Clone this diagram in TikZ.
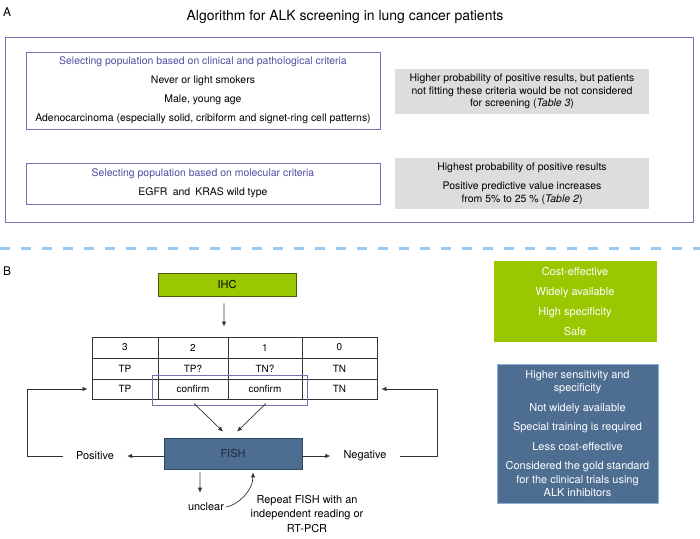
\documentclass[tikz,border=0pt]{standalone}
\usepackage{fontspec}
\setmainfont{TeX Gyre Heros}
\usetikzlibrary{arrows.meta}
\definecolor{frameblue}{HTML}{7272B2}
\definecolor{hdrblue}{HTML}{4E4E9E}
\definecolor{greyfill}{HTML}{DDDDDD}
\definecolor{dividerblue}{HTML}{9DC9F0}
\definecolor{ihcgreen}{HTML}{99C800}
\definecolor{ihcedge}{HTML}{4A5E10}
\definecolor{fishblue}{HTML}{4D6D91}
\definecolor{fishedge}{HTML}{2E4866}
\definecolor{fishtext}{HTML}{1C2B40}
\definecolor{consedge}{HTML}{8DB2D8}
\definecolor{linegray}{HTML}{333333}

\begin{document}
\begin{tikzpicture}[x=1bp, y=-1bp,
    every node/.style={inner sep=0pt, font=\fontsize{11}{13}\selectfont},
    frame/.style={draw=frameblue, line width=0.9bp, minimum width=354bp, align=center},
    greybox/.style={fill=greyfill, minimum width=254bp, align=center},
    divider/.style={draw=dividerblue, line width=3bp, dash pattern=on 10bp off 11bp},
    tableline/.style={draw=linegray, line width=0.8bp},
    cell/.style={font=\fontsize{10}{12}\selectfont},
    arr/.style={draw=linegray, line width=0.7bp, -{Latex[length=5bp,width=4.5bp]}},
    outcome/.style={inner xsep=13bp, inner ysep=2bp}]
  \useasboundingbox (0,0) rectangle (700,539);

  \node[anchor=west, font=\fontsize{12}{14}\selectfont] (labA) at (3,12) {A};
  \node[font=\fontsize{14}{16}\selectfont] (title) at (345,17) {Algorithm for ALK screening in lung cancer patients};
  \node[draw=frameblue, line width=0.9bp, minimum width=688bp, minimum height=185bp] (panelA) at (349,129.5) {};

  \node[frame, minimum height=77bp, font=\fontsize{10.5}{19}\selectfont] (clin) at (203,90.5)
    {\textcolor{hdrblue}{Selecting population based on clinical and pathological criteria}\\
     Never or light smokers\\Male, young age\\
     Adenocarcinoma (especially solid, cribiform and signet-ring cell patterns)};
  \node[greybox, minimum height=45bp, font=\fontsize{10.5}{12.5}\selectfont] (clinnote) at (522,91.5)
    {Higher probability of positive results, but patients\\
     not fitting these criteria would be not considered\\
     for screening (\textit{Table 3})};

  \node[frame, minimum height=41bp, font=\fontsize{10.5}{19}\selectfont] (mol) at (203,183.5)
    {\textcolor{hdrblue}{Selecting population based on molecular criteria}\\
     EGFR\enspace and\enspace KRAS wild type};
  \node[greybox, minimum height=51bp, font=\fontsize{10.5}{13}\selectfont] (molnote) at (522,183.5)
    {Highest probability of positive results\\[6bp]
     Positive predictive value increases\\
     from 5\% to 25~\% (\textit{Table 2})};

  \draw[divider] (0,249) -- (700,249);

  \node[anchor=west, font=\fontsize{12}{14}\selectfont] (labB) at (3,271) {B};
  \node[draw=ihcedge, fill=ihcgreen, line width=0.8bp, minimum width=138bp, minimum height=23bp] (ihc) at (227,284.5) {IHC};

  \node[tableline, minimum width=285bp, minimum height=62bp] (tbl) at (234.5,368) {};
  \foreach \x in {158,228,302}
    \draw[tableline] (\x,337) -- (\x,399);
  \foreach \y in {358,379}
    \draw[tableline] (92,\y) -- (377,\y);
  \foreach \x/\a/\b/\c [count=\i] in {125/3/TP/TP, 193/2/TP?/confirm, 265/1/TN?/confirm, 339.5/0/TN/TN} {
    \node[cell] (s\i) at (\x,347.5) {\a};
    \node[cell] (r\i) at (\x,368.5) {\b};
    \node[cell] (k\i) at (\x,389) {\c};
  }
  \node[draw=frameblue, line width=0.9bp, minimum width=155bp, minimum height=30bp] (hl) at (229.5,390) {};

  \node[draw=fishedge, fill=fishblue, text=fishtext, line width=0.8bp, minimum width=138bp, minimum height=31bp] (fish) at (233,453.5) {FISH};
  \node[outcome] (pos) at (95,456) {Positive};
  \node[outcome] (neg) at (365,456) {Negative};
  \node[inner sep=2bp] (unc) at (206,507) {unclear};
  \node[align=center, font=\fontsize{11}{14.5}\selectfont] (rep) at (307,514) {Repeat FISH with an\\independent reading or\\RT-PCR};

  \path (tbl.west |- k1) ++(-4bp,0) coordinate (inL);
  \path (tbl.east |- k4) ++(4bp,0) coordinate (inR);

  \draw[arr] ([xshift=-3bp,yshift=-7bp]ihc.south) -- ([xshift=-10.5bp,yshift=10bp]tbl.north);
  \draw[arr] ([xshift=-35.5bp,yshift=2bp]hl.south) -- ([xshift=-10bp,yshift=6bp]fish.north);
  \draw[arr] ([xshift=36.5bp,yshift=2bp]hl.south) -- ([xshift=4bp,yshift=6bp]fish.north);
  \draw[arr] (fish.west |- pos.east) -- (pos.east);
  \draw[arr] (fish.east |- neg.west) -- (neg.west);
  \draw[arr] (pos.west) -- ++(-36bp,0) |- (inL);
  \draw[arr] (neg.east) -- ++(38bp,0) |- (inR);
  \draw[arr] ([xshift=-33bp,yshift=-3bp]fish.south) -- ([xshift=-6bp,yshift=8bp]unc.north);
  \draw[arr] (unc.east) .. controls +(12bp,2bp) and +(0,-18bp) .. ([xshift=20bp,yshift=-3bp]fish.south);

  \node[fill=ihcgreen, minimum width=163bp, minimum height=81bp, text=white, align=center, font=\fontsize{11}{20}\selectfont] (pros) at (575,301.5)
    {Cost-effective\\Widely available\\High specificity\\Safe};
  \node[fill=fishblue, draw=consedge, line width=0.8bp, minimum width=161bp, minimum height=139bp, text=white, align=center, font=\fontsize{11}{13.5}\selectfont] (cons) at (577.5,433.5)
    {Higher sensitivity and\\specificity\\[6bp]Not widely available\\[6bp]Special training is required\\[6bp]Less cost-effective\\[6bp]Considered the gold standard\\for the clinical trials using\\ALK inhibitors};
\end{tikzpicture}
\end{document}
